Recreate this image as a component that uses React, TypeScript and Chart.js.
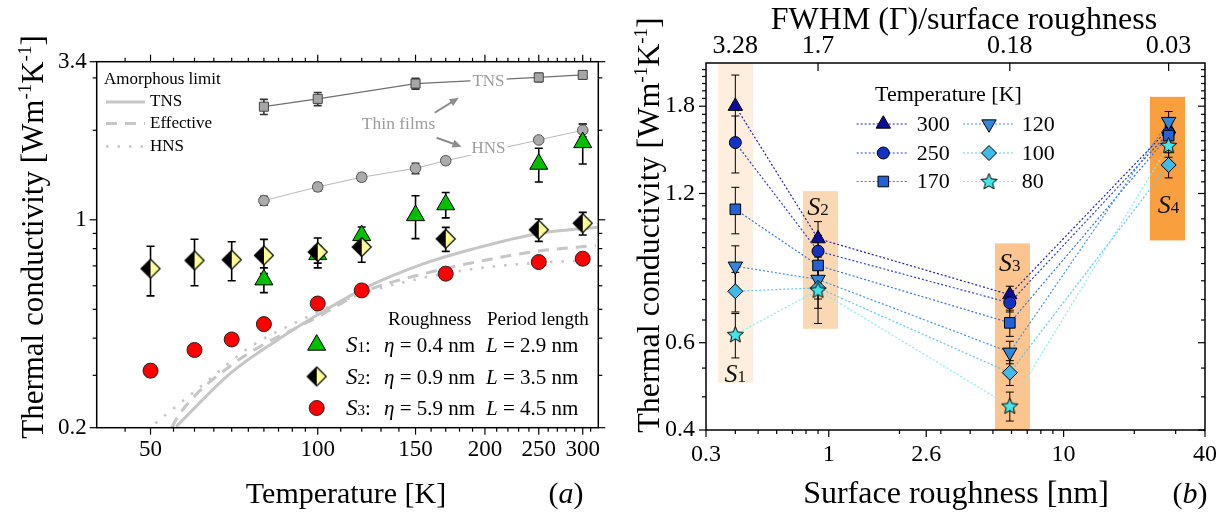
import React, { useEffect, useRef } from "react";
import { Chart, registerables } from "chart.js";

Chart.register(...registerables);

const SERIF = "'Liberation Serif', 'Times New Roman', serif";
const fnt = (size: number, style = "") => `${style} ${size}px ${SERIF}`.trim();

/* ================= Panel (a): conductivity vs temperature ================= */
const tempsS1 = [80, 100, 120, 150, 170, 250, 300];
const kappaS1 = [0.629, 0.765, 0.886, 1.034, 1.125, 1.54, 1.82];
const errS1 = [0.06, 0.05, 0.06, 0.17, 0.11, 0.2, 0.28];

const tempsS2S3 = [50, 60, 70, 80, 100, 120, 170, 250, 300];
const kappaS2 = [0.685, 0.73, 0.734, 0.759, 0.779, 0.81, 0.863, 0.926, 0.974];
const errS2 = [0.13, 0.13, 0.11, 0.1, 0.09, 0.09, 0.08, 0.08, 0.085];
const kappaS3 = [0.311, 0.365, 0.396, 0.446, 0.523, 0.579, 0.659, 0.721, 0.74];
const errS3 = [0.015, 0.016, 0.016, 0.02, 0.02, 0.02, 0.02, 0.02, 0.02];

const tempsTnsFilm = [80, 100, 150, 250, 300];
const kappaTnsFilm = [2.4, 2.55, 2.87, 3.01, 3.07];
const errTnsFilm = [0.14, 0.13, 0.12, 0.1, 0.1];

const tempsHnsFilm = [80, 100, 120, 150, 170, 250, 300];
const kappaHnsFilm = [1.16, 1.29, 1.39, 1.49, 1.58, 1.855, 2.0];
const errHnsFilm = [0.04, 0.04, 0.04, 0.06, 0.04, 0.04, 0.1];

const tempsAmTns = [55.6, 69.6, 84.5, 99.6, 121, 155.3, 191, 248.6, 318.7];
const kappaAmTns = [0.2016, 0.3045, 0.3937, 0.4777, 0.587, 0.712, 0.799, 0.898, 0.944];
const tempsAmEff = [54.6, 56.2, 70.6, 99.6, 121, 155.3, 199, 250, 316.6];
const kappaAmEff = [0.2, 0.2206, 0.329, 0.47, 0.572, 0.659, 0.73, 0.785, 0.82];
const tempsAmHns = [51, 61.5, 75.6, 91.8, 117.8, 183.3, 262.6, 314.4];
const kappaAmHns = [0.207, 0.2746, 0.374, 0.4535, 0.557, 0.676, 0.721, 0.73];

const xTicksA = [50, 100, 150, 200, 250, 300];
const xMinorA = [45, 55, 60, 65, 70, 75, 80, 85, 90, 95, 110, 120, 130, 140, 160, 170, 180, 190, 210, 220, 230, 240, 260, 270, 280, 290, 310];
const yTicksA = [0.2, 1, 3.4];
const yMinorA = [0.3, 0.4, 0.5, 0.6, 0.7, 0.8, 0.9, 2, 3];

/* ================= Panel (b): conductivity vs roughness ================= */
const roughnessNm = [0.4, 0.9, 5.9, 28];
const fwhmRatioLabels = ["3.28", "1.7", "0.18", "0.03"];
const sampleNumbers = ["1", "2", "3", "4"];
const temperatureLabels = ["300", "250", "170", "120", "100", "80"];
const kappa300 = [1.8, 0.973, 0.75, 1.62];
const kappa250 = [1.52, 0.918, 0.722, 1.59];
const kappa170 = [1.115, 0.859, 0.658, 1.57];
const kappa120 = [0.856, 0.805, 0.574, 1.676];
const kappa100 = [0.762, 0.774, 0.522, 1.37];
const kappa80 = [0.623, 0.766, 0.447, 1.5];
const err300 = [0.28, 0.08, 0.03, 0.08];
const err250 = [0.2, 0.07, 0.03, 0.08];
const err170 = [0.12, 0.07, 0.04, 0.08];
const err120 = [0.085, 0.07, 0.03, 0.08];
const err100 = [0.07, 0.07, 0.03, 0.08];
const err80 = [0.064, 0.11, 0.03, 0.08];

const xTicksB = [0.3, 1, 2.6, 10, 40];
const xMinorB = [0.4, 0.5, 0.6, 0.7, 0.8, 0.9, 2, 3, 4, 5, 6, 7, 8, 9, 20, 30];
const yTicksB = [0.4, 0.6, 1.2, 1.8];
const yMinorB = [0.4667, 0.5333, 0.6667, 0.7333, 0.8, 0.8667, 0.9333, 1.0, 1.0667, 1.1333, 1.2667, 1.3333, 1.4, 1.4667, 1.5333, 1.6, 1.6667, 1.7333, 1.8667, 1.9333, 2.0, 2.0667, 2.1333];

/* sample shading bands (annotation geometry, data coordinates) */
const bandsB = [
  { x0: 0.3375, x1: 0.4755, y0: 0.498, y1: 2.2, color: "#fdeedd", labelY: 0.522 },
  { x0: 0.776, x1: 1.095, y0: 0.64, y1: 1.213, color: "#fbd8b4", labelY: 1.13 },
  { x0: 5.1, x1: 7.19, y0: 0.4, y1: 0.952, color: "#fcc590", labelY: 0.872 },
  { x0: 23.3, x1: 32.9, y0: 0.965, y1: 1.88, color: "#fa9f3e", labelY: 1.142 },
];

/* ================= helpers ================= */
function makeHalfDiamond(R: number) {
  const c = document.createElement("canvas");
  const s = Math.ceil(2 * R + 3);
  c.width = s;
  c.height = s;
  const g = c.getContext("2d")!;
  g.translate(s / 2, s / 2);
  const path = () => {
    g.beginPath();
    g.moveTo(0, -R);
    g.lineTo(R, 0);
    g.lineTo(0, R);
    g.lineTo(-R, 0);
    g.closePath();
  };
  path();
  g.fillStyle = "#ffff99";
  g.fill();
  g.save();
  path();
  g.clip();
  g.fillStyle = "#000";
  g.fillRect(-R - 1, -R - 1, R + 1, 2 * R + 2);
  g.restore();
  path();
  g.lineWidth = 1.2;
  g.strokeStyle = "#000";
  g.stroke();
  return c;
}

function makeStar(fill: string, R: number) {
  const c = document.createElement("canvas");
  const s = Math.ceil(2 * R + 4);
  c.width = s;
  c.height = s;
  const g = c.getContext("2d")!;
  g.translate(s / 2, s / 2 + R * 0.06);
  g.beginPath();
  for (let i = 0; i < 10; i++) {
    const rr = i % 2 === 0 ? R : R * 0.45;
    const a = -Math.PI / 2 + (i * Math.PI) / 5;
    g.lineTo(rr * Math.cos(a), rr * Math.sin(a));
  }
  g.closePath();
  g.fillStyle = fill;
  g.fill();
  g.lineWidth = 1;
  g.strokeStyle = "#000";
  g.stroke();
  return c;
}

function drawMarker(ctx: CanvasRenderingContext2D, kind: any, x: number, y: number, r: number, fill: string, stroke = "#000", lw = 1) {
  ctx.save();
  if (typeof kind !== "string") {
    ctx.drawImage(kind, x - kind.width / 2, y - kind.height / 2);
    ctx.restore();
    return;
  }
  ctx.beginPath();
  if (kind === "circle") ctx.arc(x, y, r, 0, Math.PI * 2);
  else if (kind === "triangle" || kind === "triangleDown") {
    const s = kind === "triangle" ? 1 : -1;
    for (let i = 0; i < 3; i++) {
      const a = -Math.PI / 2 + (i * 2 * Math.PI) / 3;
      ctx.lineTo(x + r * Math.cos(a), y + s * r * Math.sin(a));
    }
    ctx.closePath();
  } else if (kind === "rect") {
    const h = r * Math.SQRT1_2;
    ctx.rect(x - h, y - h, 2 * h, 2 * h);
  } else if (kind === "rectRot") {
    ctx.moveTo(x, y - r);
    ctx.lineTo(x + r, y);
    ctx.lineTo(x, y + r);
    ctx.lineTo(x - r, y);
    ctx.closePath();
  }
  ctx.fillStyle = fill;
  ctx.fill();
  ctx.lineWidth = lw;
  ctx.strokeStyle = stroke;
  ctx.stroke();
  ctx.restore();
}

type Seg = { t: string; font: string; dy?: number };
function drawRich(ctx: CanvasRenderingContext2D, segs: Seg[], x: number, y: number, align = "left", color = "#000") {
  ctx.save();
  ctx.textBaseline = "alphabetic";
  ctx.textAlign = "left";
  ctx.fillStyle = color;
  let w = 0;
  segs.forEach((s) => {
    ctx.font = s.font;
    w += ctx.measureText(s.t).width;
  });
  let cx = align === "left" ? x : align === "center" ? x - w / 2 : x - w;
  segs.forEach((s) => {
    ctx.font = s.font;
    ctx.fillText(s.t, cx, y + (s.dy || 0));
    cx += ctx.measureText(s.t).width;
  });
  ctx.restore();
}

function ticksX(ctx: CanvasRenderingContext2D, sc: any, vals: number[], edge: number, len: number) {
  vals.forEach((v) => {
    const p = sc.getPixelForValue(v);
    ctx.beginPath();
    ctx.moveTo(p, edge);
    ctx.lineTo(p, edge + len);
    ctx.stroke();
  });
}
function ticksY(ctx: CanvasRenderingContext2D, sc: any, vals: number[], edge: number, len: number) {
  vals.forEach((v) => {
    const p = sc.getPixelForValue(v);
    ctx.beginPath();
    ctx.moveTo(edge, p);
    ctx.lineTo(edge + len, p);
    ctx.stroke();
  });
}

function drawErrorBars(chart: any, lw: number, cap: number) {
  const { ctx, chartArea: ca } = chart;
  const xs = chart.scales.x;
  const ys = chart.scales.y;
  ctx.save();
  ctx.beginPath();
  ctx.rect(ca.left, ca.top, ca.right - ca.left, ca.bottom - ca.top);
  ctx.clip();
  chart.data.datasets.forEach((ds: any) => {
    if (!ds.errorBars) return;
    ctx.strokeStyle = ds.errorColor || "#000";
    ctx.lineWidth = lw;
    ds.data.forEach((pt: any, i: number) => {
      const e = ds.errorBars[i];
      if (!e) return;
      const px = xs.getPixelForValue(pt.x);
      const top = ys.getPixelForValue(pt.y + e);
      const bot = ys.getPixelForValue(Math.max(pt.y - e, 1e-4));
      ctx.beginPath();
      ctx.moveTo(px, top);
      ctx.lineTo(px, bot);
      ctx.moveTo(px - cap, top);
      ctx.lineTo(px + cap, top);
      ctx.moveTo(px - cap, bot);
      ctx.lineTo(px + cap, bot);
      ctx.stroke();
    });
  });
  ctx.restore();
}

function arrow(ctx: CanvasRenderingContext2D, x1: number, y1: number, x2: number, y2: number, color: string) {
  const a = Math.atan2(y2 - y1, x2 - x1);
  const L = 9;
  const W = 4;
  ctx.save();
  ctx.strokeStyle = color;
  ctx.fillStyle = color;
  ctx.lineWidth = 2;
  ctx.beginPath();
  ctx.moveTo(x1, y1);
  ctx.lineTo(x2 - L * 0.8 * Math.cos(a), y2 - L * 0.8 * Math.sin(a));
  ctx.stroke();
  ctx.beginPath();
  ctx.moveTo(x2, y2);
  ctx.lineTo(x2 - L * Math.cos(a) + W * Math.sin(a), y2 - L * Math.sin(a) - W * Math.cos(a));
  ctx.lineTo(x2 - L * Math.cos(a) - W * Math.sin(a), y2 - L * Math.sin(a) + W * Math.cos(a));
  ctx.closePath();
  ctx.fill();
  ctx.restore();
}

function boxedLabel(ctx: CanvasRenderingContext2D, text: string, x: number, y: number, size: number, color: string) {
  ctx.save();
  ctx.font = fnt(size);
  const w = ctx.measureText(text).width;
  ctx.fillStyle = "#fff";
  ctx.fillRect(x - w / 2 - 2, y - size * 0.45, w + 4, size * 0.9);
  ctx.fillStyle = color;
  ctx.textAlign = "center";
  ctx.textBaseline = "middle";
  ctx.fillText(text, x, y + 1);
  ctx.restore();
}

const pts = (xs: number[], ys: number[]) => xs.map((x, i) => ({ x, y: ys[i] }));

function logAxis(min: number, max: number, ticks: number[], labels: (v: number, i: number) => string, size: number, padding: number, fit: (s: any) => void, extra: any = {}) {
  return {
    type: "logarithmic",
    min,
    max,
    bounds: "data",
    grid: { display: false, drawTicks: false },
    border: { display: false },
    afterBuildTicks: (axis: any) => {
      axis.ticks = ticks.map((v) => ({ value: v }));
    },
    afterFit: fit,
    ticks: {
      autoSkip: false,
      maxRotation: 0,
      minRotation: 0,
      color: "#000",
      font: { family: SERIF, size },
      padding,
      callback: (v: any, i: number) => labels(Number(v), i),
    },
    ...extra,
  };
}

/* ================= Panel (a) chart ================= */
function buildPanelA(canvas: HTMLCanvasElement) {
  const halfDiamond = makeHalfDiamond(9.5);
  const curveColor = "#c6c6c6";
  const datasets: any[] = [
    { label: "S3", data: pts(tempsS2S3, kappaS3), errorBars: errS3, pointStyle: "circle", pointRadius: 7.5, pointBackgroundColor: "#ff0000", pointBorderColor: "#222", pointBorderWidth: 1, showLine: false },
    { label: "S2", data: pts(tempsS2S3, kappaS2), errorBars: errS2, pointStyle: halfDiamond, pointRadius: 9.5, showLine: false },
    { label: "S1", data: pts(tempsS1, kappaS1), errorBars: errS1, pointStyle: "triangle", pointRadius: 10.4, pointBackgroundColor: "#00c000", pointBorderColor: "#000", pointBorderWidth: 1, showLine: false },
    { label: "HNS films", data: pts(tempsHnsFilm, kappaHnsFilm), errorBars: errHnsFilm, errorColor: "#333", pointStyle: "circle", pointRadius: 5.3, pointBackgroundColor: "#ababab", pointBorderColor: "#555", pointBorderWidth: 1, showLine: true, borderColor: "#b8b8b8", borderWidth: 1 },
    { label: "TNS films", data: pts(tempsTnsFilm, kappaTnsFilm), errorBars: errTnsFilm, errorColor: "#333", pointStyle: "rect", pointRadius: 6.4, pointBackgroundColor: "#a6a6a6", pointBorderColor: "#444", pointBorderWidth: 1, showLine: true, borderColor: "#707070", borderWidth: 1.3 },
    { label: "HNS", data: pts(tempsAmHns, kappaAmHns), pointRadius: 0, showLine: true, borderColor: curveColor, borderWidth: 2.6, borderDash: [2.5, 9], cubicInterpolationMode: "monotone" },
    { label: "Effective", data: pts(tempsAmEff, kappaAmEff), pointRadius: 0, showLine: true, borderColor: curveColor, borderWidth: 3, borderDash: [11, 8], cubicInterpolationMode: "monotone" },
    { label: "TNS", data: pts(tempsAmTns, kappaAmTns), pointRadius: 0, showLine: true, borderColor: curveColor, borderWidth: 3, cubicInterpolationMode: "monotone" },
  ];

  const plugin = {
    id: "panelA",
    beforeDatasetsDraw(chart: any) {
      const { ctx, chartArea: ca, scales } = chart;
      ctx.save();
      ctx.strokeStyle = "#000";
      ctx.lineWidth = 1.2;
      ticksX(ctx, scales.x, xTicksA, ca.bottom, 7);
      ticksX(ctx, scales.x, xMinorA, ca.bottom, 4);
      ticksX(ctx, scales.x, xTicksA, ca.top, -7);
      ticksX(ctx, scales.x, xMinorA, ca.top, -4);
      ticksY(ctx, scales.y, yTicksA, ca.left, -7);
      ticksY(ctx, scales.y, yMinorA, ca.left, -4);
      ticksY(ctx, scales.y, yTicksA, ca.right, 7);
      ticksY(ctx, scales.y, yMinorA, ca.right, 4);
      ctx.restore();
      drawErrorBars(chart, 1.6, 4);
    },
    afterDatasetsDraw(chart: any) {
      const { ctx, scales } = chart;
      const X = (v: number) => scales.x.getPixelForValue(v);
      const Y = (v: number) => scales.y.getPixelForValue(v);
      const gray = "#9c9c9c";
      boxedLabel(ctx, "TNS", X(203), Y(2.95), 17, gray);
      boxedLabel(ctx, "HNS", X(203), Y(1.75), 17, gray);
      ctx.save();
      ctx.font = fnt(17.5);
      ctx.fillStyle = gray;
      ctx.textAlign = "center";
      ctx.textBaseline = "middle";
      ctx.fillText("Thin films", X(139.8), Y(2.09));
      ctx.restore();
      arrow(ctx, X(162.4), Y(2.29), X(179.4), Y(2.57), "#8c8c8c");
      arrow(ctx, X(163.7), Y(1.888), X(181.5), Y(1.761), "#8c8c8c");
    },
    afterDraw(chart: any) {
      const { ctx, chartArea: ca } = chart;
      ctx.save();
      ctx.strokeStyle = "#000";
      ctx.lineWidth = 1.5;
      ctx.strokeRect(ca.left, ca.top, ca.right - ca.left, ca.bottom - ca.top);
      ctx.restore();

      // axis titles
      const T = 31;
      ctx.save();
      ctx.translate(33, 237);
      ctx.rotate(-Math.PI / 2);
      drawRich(ctx, [
        { t: "Thermal conductivity [Wm", font: fnt(T) },
        { t: "-1", font: fnt(19), dy: -12 },
        { t: "K", font: fnt(T) },
        { t: "-1", font: fnt(19), dy: -12 },
        { t: "]", font: fnt(T) },
      ], 0, 10, "center");
      ctx.restore();
      drawRich(ctx, [{ t: "Temperature [K]", font: fnt(30) }], 346, 503, "center");
      drawRich(ctx, [
        { t: "(", font: fnt(30) },
        { t: "a", font: fnt(30, "italic") },
        { t: ")", font: fnt(30) },
      ], 566, 503, "center");

      // amorphous limit legend
      ctx.save();
      ctx.font = fnt(17);
      ctx.fillStyle = "#000";
      ctx.textBaseline = "middle";
      ctx.fillText("Amorphous limit", 104, 80);
      const rows = [
        { name: "TNS", dash: [] as number[], w: 3, y: 102 },
        { name: "Effective", dash: [11, 8], w: 3, y: 123.5 },
        { name: "HNS", dash: [2.5, 9], w: 2.6, y: 146.5 },
      ];
      rows.forEach((r) => {
        ctx.strokeStyle = "#c6c6c6";
        ctx.lineWidth = r.w;
        ctx.setLineDash(r.dash);
        ctx.beginPath();
        ctx.moveTo(106, r.y);
        ctx.lineTo(145, r.y);
        ctx.stroke();
        ctx.setLineDash([]);
        ctx.fillText(r.name, 150, r.y);
      });
      ctx.restore();

      // sample legend
      ctx.save();
      ctx.font = fnt(19);
      ctx.fillStyle = "#000";
      ctx.textBaseline = "middle";
      ctx.fillText("Roughness", 388, 320);
      ctx.fillText("Period length", 487, 320);
      ctx.restore();
      const sRows = [
        { n: "1", eta: "0.4", L: "2.9", y: 345 },
        { n: "2", eta: "0.9", L: "3.5", y: 376.5 },
        { n: "3", eta: "5.9", L: "4.5", y: 408 },
      ];
      drawMarker(ctx, "triangle", 316.7, 345, 10.4, "#00c000");
      drawMarker(ctx, halfDiamond, 316.7, 376.5, 9.5, "#000");
      drawMarker(ctx, "circle", 316.7, 408, 7.5, "#ff0000", "#222");
      sRows.forEach((r) => {
        const base = r.y + 7;
        drawRich(ctx, [
          { t: "S", font: fnt(23, "italic") },
          { t: r.n, font: fnt(15) },
          { t: ":", font: fnt(21) },
        ], 346, base);
        drawRich(ctx, [
          { t: "\u03b7", font: fnt(21, "italic") },
          { t: " = " + r.eta + " nm", font: fnt(21) },
        ], 384, base);
        drawRich(ctx, [
          { t: "L", font: fnt(21, "italic") },
          { t: " = " + r.L + " nm", font: fnt(21) },
        ], 486, base);
      });
    },
  };

  return new Chart(canvas, {
    type: "scatter",
    data: { datasets },
    options: {
      animation: false,
      responsive: false,
      events: [],
      layout: { autoPadding: false, padding: { left: 0, right: 15.7, top: 61.7, bottom: 0 } },
      plugins: { legend: { display: false }, tooltip: { enabled: false } },
      scales: {
        x: logAxis(40, 320, xTicksA, (v) => String(v), 23, 8, (s: any) => { s.height = 91.3; }, { position: "bottom" }),
        y: logAxis(0.2, 3.4, yTicksA, (v) => String(v), 23, 10, (s: any) => { s.width = 96.7; }, { position: "left" }),
      },
    } as any,
    plugins: [plugin as any],
  } as any);
}

/* ================= Panel (b) chart ================= */
function buildPanelB(canvas: HTMLCanvasElement) {
  const series = [
    { name: temperatureLabels[0], values: kappa300, errors: err300, fill: "#0c0c9c", line: "#2020b4", style: "triangle" as any, r: 8.3 },
    { name: temperatureLabels[1], values: kappa250, errors: err250, fill: "#1432c2", line: "#2c44cc", style: "circle" as any, r: 6 },
    { name: temperatureLabels[2], values: kappa170, errors: err170, fill: "#2162d8", line: "#3474e2", style: "rect" as any, r: 7.5 },
    { name: temperatureLabels[3], values: kappa120, errors: err120, fill: "#2f88dc", line: "#3c94e6", style: "triangleDown" as any, r: 8.3 },
    { name: temperatureLabels[4], values: kappa100, errors: err100, fill: "#3fbbea", line: "#5cc6f0", style: "rectRot" as any, r: 7.5 },
    { name: temperatureLabels[5], values: kappa80, errors: err80, fill: "#44e6ea", line: "#86ecf0", style: "star" as any, r: 8.5 },
  ];
  series.forEach((s) => {
    if (s.style === "star") s.style = makeStar(s.fill, s.r);
  });

  const datasets = series
    .map((s) => ({
      label: s.name,
      data: pts(roughnessNm, s.values),
      errorBars: s.errors,
      showLine: true,
      borderColor: s.line,
      borderWidth: 1.2,
      borderDash: [2, 2],
      pointStyle: s.style === "triangleDown" ? "triangle" : s.style,
      rotation: s.style === "triangleDown" ? 180 : 0,
      pointRadius: s.r,
      pointBackgroundColor: s.fill,
      pointBorderColor: "#000",
      pointBorderWidth: 1,
      xAxisID: "x",
      yAxisID: "y",
    }))
    .reverse();

  const plugin = {
    id: "panelB",
    beforeDatasetsDraw(chart: any) {
      const { ctx, chartArea: ca, scales } = chart;
      ctx.save();
      ctx.strokeStyle = "#000";
      ctx.lineWidth = 1.2;
      ticksX(ctx, scales.x, xTicksB, ca.bottom, 7);
      ticksX(ctx, scales.x, xMinorB, ca.bottom, 4);
      ticksX(ctx, scales.x, roughnessNm, ca.top, 8);
      ticksY(ctx, scales.y, yTicksB, ca.left, -7);
      ticksY(ctx, scales.y, yMinorB, ca.left, -4);
      ticksY(ctx, scales.y, yTicksB, ca.right, -7);
      ticksY(ctx, scales.y, yMinorB, ca.right, -4);
      ctx.restore();
      const X = (v: number) => scales.x.getPixelForValue(v);
      const Y = (v: number) => scales.y.getPixelForValue(v);
      ctx.save();
      bandsB.forEach((b) => {
        ctx.fillStyle = b.color;
        ctx.fillRect(X(b.x0), Y(b.y1), X(b.x1) - X(b.x0), Y(b.y0) - Y(b.y1));
      });
      ctx.restore();
      drawErrorBars(chart, 1, 4);
    },
    afterDatasetsDraw(chart: any) {
      const { ctx, scales } = chart;
      bandsB.forEach((b, i) => {
        const x = scales.x.getPixelForValue(roughnessNm[i]);
        const y = scales.y.getPixelForValue(b.labelY);
        drawRich(ctx, [
          { t: "S", font: fnt(26, "italic") },
          { t: sampleNumbers[i], font: fnt(17) },
        ], x, y + 9, "center", "#111");
      });
    },
    afterDraw(chart: any) {
      const { ctx, chartArea: ca } = chart;
      ctx.save();
      ctx.strokeStyle = "#000";
      ctx.lineWidth = 1.5;
      ctx.strokeRect(ca.left, ca.top, ca.right - ca.left, ca.bottom - ca.top);
      ctx.restore();

      const T = 32;
      ctx.save();
      ctx.translate(35, 225);
      ctx.rotate(-Math.PI / 2);
      drawRich(ctx, [
        { t: "Thermal conductivity [Wm", font: fnt(T) },
        { t: "-1", font: fnt(19), dy: -12 },
        { t: "K", font: fnt(T) },
        { t: "-1", font: fnt(19), dy: -12 },
        { t: "]", font: fnt(T) },
      ], 0, 10, "center");
      ctx.restore();
      drawRich(ctx, [{ t: "Surface roughness [nm]", font: fnt(T) }], 342, 503, "center");
      drawRich(ctx, [
        { t: "(", font: fnt(30) },
        { t: "b", font: fnt(30, "italic") },
        { t: ")", font: fnt(30) },
      ], 576, 503, "center");
      drawRich(ctx, [{ t: "FWHM (\u0393)/surface roughness", font: fnt(T) }], 350, 29, "center");

      // temperature legend
      ctx.save();
      ctx.font = fnt(22);
      ctx.fillStyle = "#000";
      ctx.textBaseline = "middle";
      ctx.fillText("Temperature [K]", 261, 95);
      const colX = [
        { l0: 242.7, l1: 294, m: 269.3, t: 302.7 },
        { l0: 349, l1: 399, m: 375, t: 407.7 },
      ];
      const rowY = [124, 153, 181.5];
      series.forEach((s, i) => {
        const c = colX[Math.floor(i / 3)];
        const y = rowY[i % 3];
        ctx.strokeStyle = s.line;
        ctx.lineWidth = 1.2;
        ctx.setLineDash([2, 2]);
        ctx.beginPath();
        ctx.moveTo(c.l0, y);
        ctx.lineTo(c.l1, y);
        ctx.stroke();
        ctx.setLineDash([]);
        drawMarker(ctx, s.style, c.m, y, s.r, s.fill);
        ctx.fillStyle = "#000";
        ctx.font = fnt(22);
        ctx.fillText(s.name, c.t, y + 1);
      });
      ctx.restore();
    },
  };

  return new Chart(canvas, {
    type: "scatter",
    data: { datasets },
    options: {
      animation: false,
      responsive: false,
      events: [],
      layout: { autoPadding: false, padding: { left: 0, right: 23, top: 0, bottom: 0 } },
      plugins: { legend: { display: false }, tooltip: { enabled: false } },
      scales: {
        x: logAxis(0.3, 40, xTicksB, (v) => String(v), 24, 10, (s: any) => { s.height = 89; }, { position: "bottom" }),
        xTop: logAxis(0.3, 40, roughnessNm, (_v, i) => fwhmRatioLabels[i], 26, 1, (s: any) => { s.height = 63; }, { position: "top" }),
        y: logAxis(0.4, 2.2, yTicksB, (v) => String(v), 24, 11, (s: any) => { s.width = 92; }, { position: "left" }),
      },
    } as any,
    plugins: [plugin as any],
  } as any);
}

export default function App() {
  const leftRef = useRef<HTMLCanvasElement>(null);
  const rightRef = useRef<HTMLCanvasElement>(null);
  useEffect(() => {
    const a = buildPanelA(leftRef.current!);
    const b = buildPanelB(rightRef.current!);
    return () => {
      a.destroy();
      b.destroy();
    };
  }, []);
  return (
    <div style={{ position: "absolute", left: 0, top: 0, width: 1228, height: 519, background: "#fff" }}>
      <canvas ref={leftRef} width={614} height={519} style={{ position: "absolute", left: 0, top: 0 }} />
      <canvas ref={rightRef} width={614} height={519} style={{ position: "absolute", left: 614, top: 0 }} />
    </div>
  );
}
